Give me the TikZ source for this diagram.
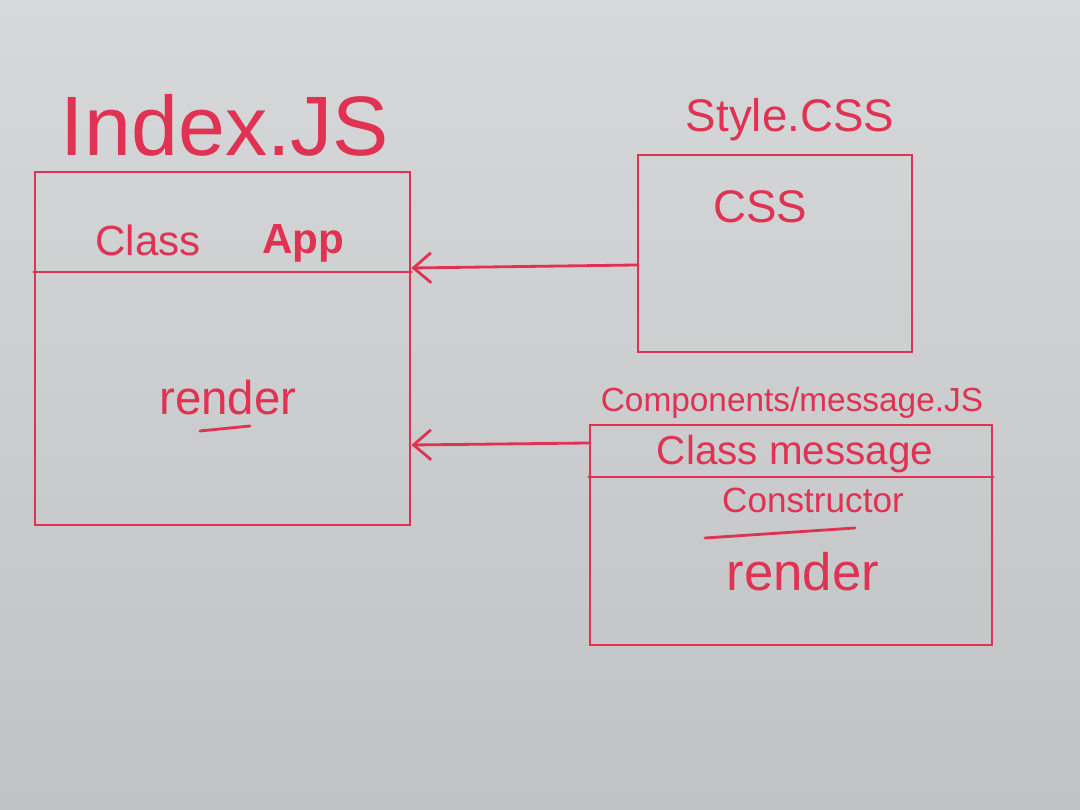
\documentclass[tikz,border=0pt]{standalone}
\usepackage{fontspec}
\setmainfont{Liberation Sans}
\usetikzlibrary{arrows.meta,positioning}
\definecolor{ink}{RGB}{224,50,82}
\definecolor{boardtop}{RGB}{214,216,217}
\definecolor{boardbot}{RGB}{192,194,195}
\tikzset{>={Straight Barb[length=3.5mm,width=6mm]}}
\newcommand{\fsz}[1]{\fontsize{#1}{#1}\selectfont}

\begin{document}
\begin{tikzpicture}[
    x = 0.02cm, y = -0.02cm,
    box/.style = {draw = ink, line width = 1.6pt, inner sep = 0pt},
    txt/.style = {text = ink, inner sep = 0pt},
    pen/.style = {draw = ink, line width = 1.6pt, line cap = round},
]

% whiteboard
\shade[top color = boardtop, bottom color = boardbot] (0,0) rectangle (1080,810);
\useasboundingbox (0,0) rectangle (1080,810);

% Index.JS
\node[txt, font = \fsz{48}] (indextitle) at (225,125) {Index.JS};
\node[box, minimum width = 7.5cm, minimum height = 7.06cm] (app) at (222.5,348.5) {};
\draw[pen] (app.west |- 0,272) -- (app.east |- 0,272);
\node[txt, font = \fsz{24}] (appclass) at (148,240) {Class};
\node[txt, font = \bfseries\fsz{24}] (appname) at (303,243) {App};
\node[txt, font = \fsz{27}] (apprender) at (228,398) {render};
\draw[pen] (200,431) -- (250,426);

% Style.CSS
\node[txt, font = \fsz{26}] (csstitle) at (790,120) {Style.CSS};
\node[box, minimum width = 5.48cm, minimum height = 3.94cm] (css) at (775,253.5) {};
\node[txt, font = \fsz{26}] (csstext) at (760,207) {CSS};

% Components/message.JS
\node[txt, font = \fsz{19}] (msgtitle) at (792,403) {Components/message.JS};
\node[box, minimum width = 8.04cm, minimum height = 4.4cm] (msg) at (791,535) {};
\draw[pen] (msg.west |- 0,477) -- (msg.east |- 0,477);
\node[txt, font = \fsz{23}] (msgclass) at (795,454) {Class message};
\node[txt, font = \fsz{20}] (msgctor) at (813,500) {Constructor};
\draw[pen] (705,538) -- (855,528);
\node[txt, font = \fsz{30}] (msgrender) at (803,572) {render};

% imports
\draw[pen, ->] (css.west |- 0,265) -- (app.east |- 0,268);
\draw[pen, ->] (msg.west |- 0,443) -- (app.east |- 0,445);

\end{tikzpicture}
\end{document}
